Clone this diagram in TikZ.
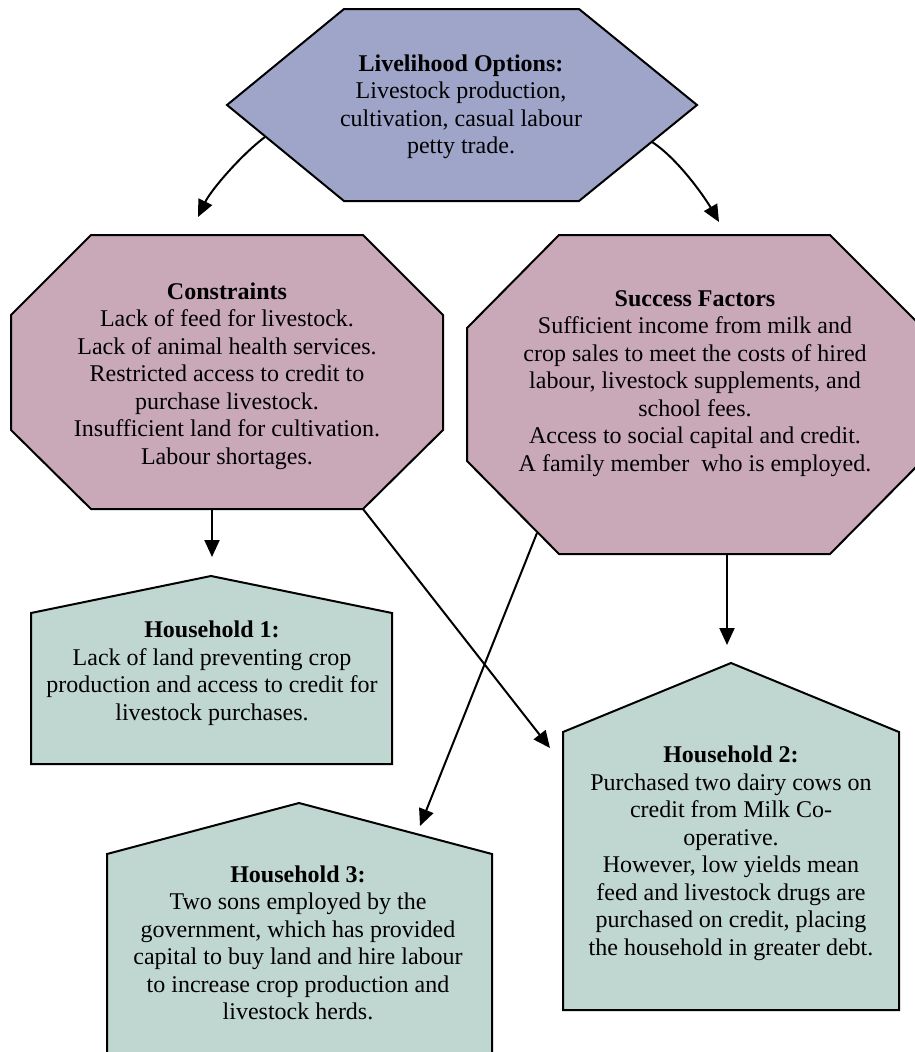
\documentclass[tikz,border=0pt]{standalone}
\usepackage{fontspec}
\setmainfont{Liberation Serif}
\usetikzlibrary{arrows.meta}
\definecolor{optfill}{HTML}{9FA5C9}
\definecolor{factfill}{HTML}{C9A8B8}
\definecolor{hhfill}{HTML}{C0D6D0}
\begin{document}
\begin{tikzpicture}[x=1pt,y=-1pt,
  outline/.style={draw=black,line width=2pt,line join=miter},
  boxtext/.style={align=center,inner sep=0pt,font={\fontsize{24}{27.5}\selectfont}},
  link/.style={line width=2pt,-{Triangle[length=17pt,width=15pt]}}]
\useasboundingbox (0,0) rectangle (915,1052);
\clip (0,0) rectangle (915,1052);

% shapes
\filldraw[outline,fill=optfill] (227,105) -- (344,9) -- (579,9) -- (697,105) -- (579,201) -- (344,201) -- cycle;
\filldraw[outline,fill=factfill] (91,235) -- (363,235) -- (443,315) -- (443,430) -- (363,509) -- (91,509) -- (11,430) -- (11,315) -- cycle;
\filldraw[outline,fill=factfill] (559,235) -- (830,235) -- (922,327) -- (922,461) -- (830,554) -- (559,554) -- (467,461) -- (467,328) -- cycle;
\filldraw[outline,fill=hhfill] (31,764) -- (31,613) -- (211,576) -- (392,613) -- (392,764) -- cycle;
\filldraw[outline,fill=hhfill] (563,1010) -- (563,732) -- (731,663) -- (899,732) -- (899,1010) -- cycle;
\filldraw[outline,fill=hhfill] (107,1070) -- (107,854) -- (299,803) -- (492,854) -- (492,1070) -- cycle;

% texts
\node[boxtext] (opt) at (461,107) {\textbf{Livelihood Options:}\\Livestock production,\\cultivation, casual labour\\petty trade.};
\node[boxtext] (cons) at (227,376) {\textbf{Constraints}\\Lack of feed for livestock.\\Lack of animal health services.\\Restricted access to credit to\\purchase livestock.\\Insufficient land for cultivation.\\Labour shortages.};
\node[boxtext] (succ) at (695,383.5) {\textbf{Success Factors}\\Sufficient income from milk and\\crop sales to meet the costs of hired\\labour, livestock supplements, and\\school fees.\\Access to social capital and credit.\\A family member\ \ who is employed.};
\node[boxtext] (hh1) at (212,673) {\textbf{Household 1:}\\Lack of land preventing crop\\production and access to credit for\\livestock purchases.};
\node[boxtext] (hh2) at (731,853.5) {\textbf{Household 2:}\\Purchased two dairy cows on\\credit from Milk Co-\\operative.\\However, low yields mean\\feed and livestock drugs are\\purchased on credit, placing\\the household in greater debt.};
\node[boxtext] (hh3) at (298,943) {\textbf{Household 3:}\\Two sons employed by the\\government, which has provided\\capital to buy land and hire labour\\to increase crop production and\\livestock herds.};

% connector ends
\coordinate (optL) at (265,137);
\coordinate (optR) at (652,142);
\coordinate (consIn) at (198,217);
\coordinate (succIn) at (719,222);
\coordinate (consB) at (212,509);
\coordinate (consC) at (363,509);
\coordinate (succS) at (537,533);
\coordinate (succB) at (727,554);
\coordinate (hh1In) at (212,557);
\coordinate (hh2In) at (550,748);
\coordinate (hh2Top) at (727,645);
\coordinate (hh3In) at (420,826);

% connectors
\draw[link] (optL) .. controls (241,155) and (211,190) .. (consIn);
\draw[link] (optR) .. controls (677,158) and (704,196) .. (succIn);
\draw[link] (consB) -- (hh1In);
\draw[link] (consC) -- (hh2In);
\draw[link] (succS) -- (hh3In);
\draw[link] (succB) -- (hh2Top);
\end{tikzpicture}
\end{document}
